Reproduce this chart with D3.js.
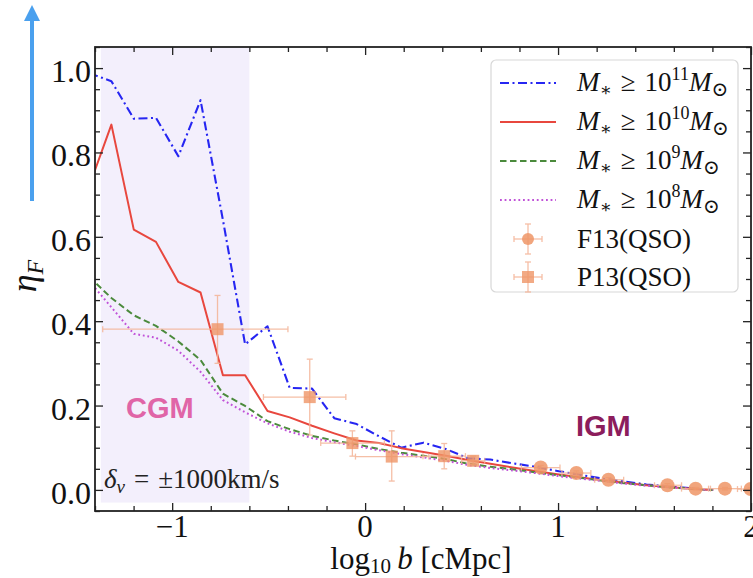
<!DOCTYPE html>
<html>
<head>
<meta charset="utf-8">
<script src="https://cdn.jsdelivr.net/npm/d3@7"></script>
<style>
  body { margin: 0; background: #fff; }
  svg { display: block; }
</style>
</head>
<body>
<svg id="chart" width="753" height="578"></svg>
<script>
// Impact-parameter bins, log10 b [cMpc]
const logB = [-1.430, -1.315, -1.199, -1.084, -0.968, -0.853, -0.737, -0.622, -0.506, -0.391,
              -0.275, -0.160, -0.044, 0.072, 0.187, 0.303, 0.418, 0.534, 0.649, 0.765,
              0.880, 0.996, 1.111, 1.227, 1.342, 1.458, 1.573, 1.689, 1.804];

// eta_F for each stellar-mass threshold
const etaM11 = [0.988, 0.969, 0.880, 0.882, 0.791, 0.924, 0.640, 0.345, 0.388, 0.242,
                0.240, 0.170, 0.156, 0.127, 0.100, 0.112, 0.097, 0.075, 0.072, 0.063,
                0.055, 0.045, 0.036, 0.027, 0.020, 0.013, 0.008, 0.004, 0.000];
const etaM10 = [0.720, 0.866, 0.617, 0.588, 0.493, 0.468, 0.272, 0.272, 0.187, 0.172,
                0.152, 0.134, 0.117, 0.111, 0.099, 0.090, 0.081, 0.071, 0.062, 0.053,
                0.045, 0.037, 0.030, 0.023, 0.017, 0.011, 0.007, 0.003, 0.000];
const etaM9  = [0.505, 0.455, 0.414, 0.389, 0.352, 0.308, 0.228, 0.199, 0.163, 0.144,
                0.128, 0.117, 0.108, 0.097, 0.088, 0.081, 0.073, 0.062, 0.055, 0.049,
                0.042, 0.035, 0.029, 0.022, 0.016, 0.011, 0.006, 0.003, 0.000];
const etaM8  = [0.495, 0.433, 0.370, 0.361, 0.330, 0.280, 0.213, 0.184, 0.158, 0.138,
                0.123, 0.113, 0.104, 0.094, 0.085, 0.077, 0.069, 0.059, 0.052, 0.046,
                0.040, 0.033, 0.027, 0.021, 0.015, 0.010, 0.006, 0.003, 0.000];

// Observations: F13 (QSO), circles
const f13X   = [0.910, 1.095, 1.261, 1.567, 1.713, 1.865, 1.998];
const f13Y   = [0.053, 0.040, 0.024, 0.011, 0.003, 0.003, 0.002];
const f13XLo = [0.810, 1.020, 1.190, 1.500, 1.640, 1.790, 1.930];
const f13XHi = [1.010, 1.170, 1.340, 1.640, 1.780, 1.950, 2.080];
const f13YLo = [0.048, 0.035, 0.019, 0.007, 0.000, 0.000, 0.000];
const f13YHi = [0.058, 0.045, 0.029, 0.015, 0.006, 0.006, 0.005];

// Observations: P13 (QSO), squares
const p13X   = [-0.765, -0.287, -0.066, 0.138, 0.410, 0.560];
const p13Y   = [0.381, 0.220, 0.111, 0.079, 0.080, 0.069];
const p13XLo = [-1.360, -0.527, -0.230, -0.050, 0.300, 0.500];
const p13XHi = [-0.400, -0.100, 0.100, 0.330, 0.520, 0.620];
const p13YLo = [0.300, 0.130, 0.080, 0.021, 0.050, 0.060];
const p13YHi = [0.461, 0.310, 0.140, 0.140, 0.110, 0.080];

const xTicksMajor = [-1, 0, 1, 2];
const xTicksMinor = [-1.4, -1.2, -0.8, -0.6, -0.4, -0.2, 0.2, 0.4, 0.6, 0.8, 1.2, 1.4, 1.6, 1.8];
const yTicksMajor = [0.0, 0.2, 0.4, 0.6, 0.8, 1.0];
const yTicksMinor = [-0.05, 0.05, 0.1, 0.15, 0.25, 0.3, 0.35, 0.45, 0.5, 0.55, 0.65, 0.7, 0.75, 0.85, 0.9, 0.95, 1.05];

const cgmSpan = [-1.37, -0.6];
const cgmYSpan = [-0.03, 1.05];

const legendLabels = ["11", "10", "9", "8"];

const svg = d3.select("#chart");
const L = 95, R = 751, T = 47, B = 511;
const x = d3.scaleLinear().domain([-1.4, 2]).range([L, R]);
const y = d3.scaleLinear().domain([-0.05, 1.05]).range([B, T]);

const serif = "'Liberation Serif', 'DejaVu Serif', serif";
const sans = "'Liberation Sans', Arial, sans-serif";

svg.append("defs").append("clipPath").attr("id", "plotClip")
  .append("rect").attr("x", L).attr("y", T).attr("width", R - L).attr("height", B - T);

const plot = svg.append("g").attr("clip-path", "url(#plotClip)");

// CGM region
plot.append("rect")
  .attr("x", x(cgmSpan[0])).attr("width", x(cgmSpan[1]) - x(cgmSpan[0]))
  .attr("y", y(cgmYSpan[1])).attr("height", y(cgmYSpan[0]) - y(cgmYSpan[1]))
  .attr("fill", "#f3effc");

const series = [
  { vals: etaM11, color: "#2626f2", dash: "9,3.5,2,3.5", width: 2.1 },
  { vals: etaM10, color: "#e8473e", dash: null, width: 2.0 },
  { vals: etaM9,  color: "#4b8a3c", dash: "6.5,3.5", width: 2.0 },
  { vals: etaM8,  color: "#c052d8", dash: "1.8,2.8", width: 2.0 }
];

const line = d3.line().x((d, i) => x(logB[i])).y(d => y(d));

series.forEach(s => {
  plot.append("path")
    .datum(s.vals)
    .attr("d", line)
    .attr("fill", "none")
    .attr("stroke", s.color)
    .attr("stroke-width", s.width)
    .attr("stroke-dasharray", s.dash)
    .attr("stroke-linejoin", "round");
});

const errColor = "#f4b497";
const markColor = "#ef9566";

function errorBars(g, xs, ys, xlo, xhi, ylo, yhi) {
  const cap = 3;
  xs.forEach((xv, i) => {
    const px = x(xv), py = y(ys[i]);
    const e = g.append("g").attr("stroke", errColor).attr("stroke-width", 1.3).attr("opacity", 0.85);
    e.append("line").attr("x1", x(xlo[i])).attr("x2", x(xhi[i])).attr("y1", py).attr("y2", py);
    e.append("line").attr("x1", px).attr("x2", px).attr("y1", y(ylo[i])).attr("y2", y(yhi[i]));
    [xlo[i], xhi[i]].forEach(v => e.append("line").attr("x1", x(v)).attr("x2", x(v)).attr("y1", py - cap).attr("y2", py + cap));
    [ylo[i], yhi[i]].forEach(v => e.append("line").attr("x1", px - cap).attr("x2", px + cap).attr("y1", y(v)).attr("y2", y(v)));
  });
}

errorBars(plot, f13X, f13Y, f13XLo, f13XHi, f13YLo, f13YHi);
errorBars(plot, p13X, p13Y, p13XLo, p13XHi, p13YLo, p13YHi);

plot.selectAll("circle.f13").data(f13X).join("circle")
  .attr("cx", d => x(d)).attr("cy", (d, i) => y(f13Y[i])).attr("r", 7)
  .attr("fill", markColor).attr("opacity", 0.85);

plot.selectAll("rect.p13").data(p13X).join("rect")
  .attr("x", d => x(d) - 6).attr("y", (d, i) => y(p13Y[i]) - 6)
  .attr("width", 12).attr("height", 12)
  .attr("fill", markColor).attr("opacity", 0.8);

// Region labels
svg.append("text").attr("x", 126).attr("y", 418)
  .attr("font-family", sans).attr("font-weight", "bold").attr("font-size", 29)
  .attr("fill", "#e065a7").text("CGM");
svg.append("text").attr("x", 576).attr("y", 436)
  .attr("font-family", sans).attr("font-weight", "bold").attr("font-size", 29)
  .attr("fill", "#8c1d5c").text("IGM");

const dv = svg.append("text").attr("x", 104).attr("y", 488)
  .attr("font-family", serif).attr("font-size", 27).attr("fill", "#222");
dv.append("tspan").attr("font-style", "italic").text("δ");
dv.append("tspan").attr("font-style", "italic").attr("font-size", 19).attr("dy", 5).text("v");
dv.append("tspan").attr("dy", -5).text("\u2004=\u2004±1000km/s");

// Axes (ticks pointing inward on all four sides)
function tickAxis(axisFn, scale, vals, size, pos, transformFn) {
  const a = axisFn(scale).tickValues(vals).tickSize(-size).tickFormat("");
  const g = svg.append("g").attr("transform", transformFn(pos)).call(a);
  g.select(".domain").remove();
  g.selectAll(".tick line").attr("stroke", "#222").attr("stroke-width", 1.3);
  return g;
}
tickAxis(d3.axisBottom, x, xTicksMajor, 8, B, p => `translate(0,${p})`);
tickAxis(d3.axisBottom, x, xTicksMinor, 5, B, p => `translate(0,${p})`);
tickAxis(d3.axisTop, x, xTicksMajor, 8, T, p => `translate(0,${p})`);
tickAxis(d3.axisTop, x, xTicksMinor, 5, T, p => `translate(0,${p})`);
tickAxis(d3.axisLeft, y, yTicksMajor, 8, L, p => `translate(${p},0)`);
tickAxis(d3.axisLeft, y, yTicksMinor, 5, L, p => `translate(${p},0)`);
tickAxis(d3.axisRight, y, yTicksMajor, 8, R, p => `translate(${p},0)`);
tickAxis(d3.axisRight, y, yTicksMinor, 5, R, p => `translate(${p},0)`);

// Tick labels
const fmtX = d3.format("d");
svg.append("g").selectAll("text").data(xTicksMajor).join("text")
  .attr("x", d => x(d)).attr("y", 537)
  .attr("text-anchor", "middle").attr("font-family", serif).attr("font-size", 31)
  .attr("fill", "#111").text(d => fmtX(d));

const fmtY = d3.format(".1f");
svg.append("g").selectAll("text").data(yTicksMajor).join("text")
  .attr("x", 91).attr("y", d => y(d) + 14)
  .attr("text-anchor", "end").attr("font-family", serif).attr("font-size", 32)
  .attr("fill", "#111").text(d => fmtY(d));

// Frame
svg.append("rect").attr("x", L).attr("y", T).attr("width", R - L).attr("height", B - T)
  .attr("fill", "none").attr("stroke", "#222").attr("stroke-width", 1.8);

// Axis titles
const xt = svg.append("text").attr("x", 421).attr("y", 569).attr("text-anchor", "middle")
  .attr("font-family", serif).attr("font-size", 31).attr("fill", "#111");
xt.append("tspan").text("log");
xt.append("tspan").attr("font-size", 21).attr("dy", 4).text("10");
xt.append("tspan").attr("dy", -4).attr("font-style", "italic").text("\u2009b");
xt.append("tspan").text(" [cMpc]");

const yt = svg.append("text").attr("transform", "translate(36,276) rotate(-90)")
  .attr("text-anchor", "middle").attr("font-family", serif).attr("font-size", 36).attr("fill", "#111");
yt.append("tspan").attr("font-style", "italic").text("η");
yt.append("tspan").attr("font-style", "italic").attr("font-size", 24).attr("dy", 7).text("F");

// Upward arrow beside the y axis
svg.append("line").attr("x1", 32).attr("x2", 32).attr("y1", 201).attr("y2", 16)
  .attr("stroke", "#4aa0ee").attr("stroke-width", 4);
svg.append("path").attr("d", "M32,5 L40,21 L24,21 Z").attr("fill", "#4aa0ee");

// Legend
const lg = svg.append("g");
lg.append("rect").attr("x", 491).attr("y", 60).attr("width", 247).attr("height", 232).attr("rx", 5)
  .attr("fill", "#fff").attr("fill-opacity", 0.85).attr("stroke", "#d8d8d8").attr("stroke-width", 1.2);

const rowY = [83, 122, 161, 200, 239, 277];
series.forEach((s, i) => {
  lg.append("line").attr("x1", 500).attr("x2", 556).attr("y1", rowY[i]).attr("y2", rowY[i])
    .attr("stroke", s.color).attr("stroke-width", s.width).attr("stroke-dasharray", s.dash);
  const t = lg.append("text").attr("x", 577).attr("y", rowY[i] + 8)
    .attr("font-family", serif).attr("font-size", 27).attr("fill", "#111");
  t.append("tspan").attr("font-style", "italic").text("M");
  t.append("tspan").attr("font-size", 18).attr("dy", 5).text("∗");
  t.append("tspan").attr("dy", -5).text("\u2004≥\u200410");
  t.append("tspan").attr("font-size", 18).attr("dy", -11).text(legendLabels[i]);
  t.append("tspan").attr("dy", 11).attr("font-style", "italic").text("M");
  t.append("tspan").attr("font-size", 20).attr("dy", 5).text("⊙");
});

function legendMarker(cy, shape) {
  const cx = 528, g = lg.append("g");
  const e = g.append("g").attr("stroke", errColor).attr("stroke-width", 1.3).attr("opacity", 0.85);
  e.append("line").attr("x1", cx - 14).attr("x2", cx + 14).attr("y1", cy).attr("y2", cy);
  e.append("line").attr("x1", cx).attr("x2", cx).attr("y1", cy - 15).attr("y2", cy + 15);
  [cx - 14, cx + 14].forEach(v => e.append("line").attr("x1", v).attr("x2", v).attr("y1", cy - 3).attr("y2", cy + 3));
  [cy - 15, cy + 15].forEach(v => e.append("line").attr("x1", cx - 3).attr("x2", cx + 3).attr("y1", v).attr("y2", v));
  if (shape === "circle") g.append("circle").attr("cx", cx).attr("cy", cy).attr("r", 6).attr("fill", markColor).attr("opacity", 0.85);
  else g.append("rect").attr("x", cx - 6).attr("y", cy - 6).attr("width", 12).attr("height", 12).attr("fill", markColor).attr("opacity", 0.8);
}
legendMarker(rowY[4], "circle");
legendMarker(rowY[5], "square");
lg.append("text").attr("x", 577).attr("y", rowY[4] + 9).attr("font-family", serif).attr("font-size", 27).attr("fill", "#111").text("F13(QSO)");
lg.append("text").attr("x", 577).attr("y", rowY[5] + 9).attr("font-family", serif).attr("font-size", 27).attr("fill", "#111").text("P13(QSO)");
</script>
</body>
</html>
